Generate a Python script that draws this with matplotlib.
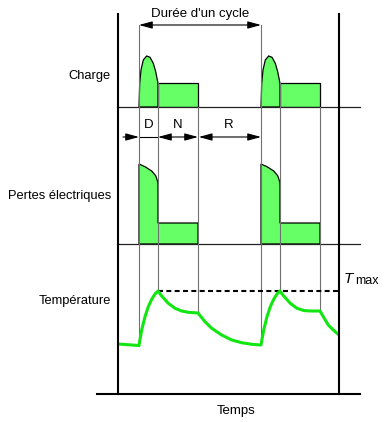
import numpy as np
import matplotlib
matplotlib.use("Agg")
import matplotlib.pyplot as plt

plt.rcParams['font.family'] = ['Liberation Sans', 'DejaVu Sans']

# cycle timing (time units, frame spans 0..221)
t_end = 221
cycle_starts = [21, 143]
dur_D = 19
dur_N = 40

# load (Charge): start peak profile, then constant load during N
peak_dt = [0, 0.7, 2, 4.3, 7.7, 11, 14.3, 16.7, 19]
peak_load = [0, 23.7, 37, 47, 51, 49.7, 43.7, 35.3, 23.7]
run_load = 23.7

# electrical losses (Pertes électriques)
loss_dt = [0, 0, 6, 12.7, 16.7, 18.7, 19]
loss_val = [0, 80, 77.3, 73, 68.3, 62.3, 59]
run_loss = 21

# temperature curve
temp_t = [0, 21, 21.7, 23.7, 27, 30.3, 33.7, 37, 40, 43.7, 50.3, 57, 63.7, 70.3, 80,
          87, 93.7, 103.7, 113.7, 123.7, 133.7, 143, 143.7, 145.7, 149, 152.3, 155.7,
          159, 162, 165.7, 172.3, 179, 185.7, 192.3, 202, 205.3, 210.3, 215.3, 221]
temp_val = [50, 48.5, 53, 64, 77.3, 87.3, 94.7, 100, 103, 98, 90.7, 85.7, 83, 81.7, 81,
            72.3, 65.7, 59, 54, 51.3, 49.7, 49, 53, 64, 77.3, 87.3, 94.7,
            100, 103, 98, 90.7, 85.7, 83.5, 83, 83, 77.3, 69, 64, 59]
t_max = 103

FILL = '#66ff66'
CURVE = '#11e611'
GREY = '#707070'

W, H = 388, 422
fig = plt.figure(figsize=(W / 100, H / 100), dpi=100)


def rect(x0, y0, x1, y1):
    return [x0 / W, 1 - y1 / H, (x1 - x0) / W, (y1 - y0) / H]


ax_c = fig.add_axes(rect(118, 14, 339, 107))
ax_p = fig.add_axes(rect(118, 107, 339, 244))
ax_t = fig.add_axes(rect(118, 244, 339, 394))
for ax, top in [(ax_c, 93), (ax_p, 137), (ax_t, 150)]:
    ax.set_xlim(0, t_end)
    ax.set_ylim(0, top)
    ax.axis('off')
    ax.axvline(0, color='black', lw=1.5, clip_on=False, zorder=5)
    ax.axvline(t_end, color='black', lw=1.5, clip_on=False, zorder=5)

bounds = []
for s in cycle_starts:
    bounds += [s, s + dur_D, s + dur_D + dur_N]

# --- Charge
for s in cycle_starts:
    px = [s + d for d in peak_dt] + [s + dur_D]
    ax_c.fill(px, peak_load + [0], facecolor=FILL, edgecolor='black', lw=0.9, zorder=2)
    rx = [s + dur_D, s + dur_D, s + dur_D + dur_N, s + dur_D + dur_N]
    ax_c.fill(rx, [0, run_load, run_load, 0], facecolor=FILL, edgecolor='black', lw=0.9, zorder=2)
    ax_c.plot([s, s], [0, 82], color=GREY, lw=0.8, zorder=3)
    ax_c.plot([s + dur_D] * 2, [0, run_load], color=GREY, lw=0.8, zorder=3)
ax_c.plot([0, 242], [0, 0], color='#222222', lw=0.9, clip_on=False)
ax_c.annotate('', xy=(cycle_starts[0], 82), xytext=(cycle_starts[1], 82),
              arrowprops=dict(arrowstyle='<|-|>,head_length=0.8,head_width=0.22',
                              color='black', lw=0.8, shrinkA=0, shrinkB=0))
ax_c.text(np.mean(cycle_starts), 93, "Durée d'un cycle", ha='center', va='center',
          fontsize=9.5, clip_on=False)
ax_c.text(-7, 31, 'Charge', ha='right', va='center', fontsize=9.3, clip_on=False)

# --- Pertes électriques
for s in cycle_starts:
    xs = [s + d for d in loss_dt] + [s + dur_D, s + dur_D + dur_N, s + dur_D + dur_N]
    ys = loss_val + [run_loss, run_loss, 0]
    ax_p.fill(xs, ys, facecolor=FILL, edgecolor='black', lw=0.9, zorder=2)
for b in bounds:
    ax_p.plot([b, b], [0, 137], color=GREY, lw=0.8, zorder=3)
ax_p.plot([0, 242], [0, 0], color='#222222', lw=0.9, clip_on=False)

s0 = cycle_starts[0]
arr = dict(color='black', lw=0.8, shrinkA=0, shrinkB=0)
ax_p.annotate('', xy=(s0, 107), xytext=(5, 107),
              arrowprops=dict(arrowstyle='-|>,head_length=0.8,head_width=0.22', **arr))
ax_p.plot([s0, s0 + dur_D], [107, 107], color='black', lw=0.8)
ax_p.annotate('', xy=(s0 + dur_D, 107), xytext=(s0 + dur_D + dur_N, 107),
              arrowprops=dict(arrowstyle='<|-|>,head_length=0.8,head_width=0.22', **arr))
ax_p.annotate('', xy=(s0 + dur_D + dur_N + 0.8, 107), xytext=(cycle_starts[1], 107),
              arrowprops=dict(arrowstyle='<|-|>,head_length=0.8,head_width=0.22', **arr))
ax_p.text(s0 + dur_D / 2, 119, 'D', ha='center', va='center', fontsize=9.5)
ax_p.text(s0 + dur_D + dur_N / 2 - 0.5, 119, 'N', ha='center', va='center', fontsize=9.5)
ax_p.text((s0 + dur_D + dur_N + cycle_starts[1]) / 2 - 0.5, 119, 'R', ha='center',
          va='center', fontsize=9.5)
ax_p.text(-7, 48, 'Pertes électriques', ha='right', va='center', fontsize=9.3, clip_on=False)

# --- Température
for b in bounds:
    ax_t.plot([b, b], [np.interp(b, temp_t, temp_val), 150], color=GREY, lw=0.8, zorder=3)
ax_t.plot([s0 + dur_D, t_end], [t_max, t_max], color='black', lw=1.5,
          dashes=(2.4, 1.6), zorder=4)
ax_t.plot(temp_t, temp_val, color=CURVE, lw=2.2, zorder=4, solid_capstyle='butt')
ax_t.plot([-21, 242], [0, 0], color='black', lw=1.5, clip_on=False)
ax_t.text(-7, 93, 'Température', ha='right', va='center', fontsize=9.3, clip_on=False)
ax_t.text(226, 111, 'T', ha='left', va='baseline', fontsize=11, style='italic', clip_on=False)
ax_t.text(237, 109.5, 'max', ha='left', va='baseline', fontsize=9, clip_on=False)
ax_t.text(118, -17, 'Temps', ha='center', va='center', fontsize=9.5, clip_on=False)

fig.savefig('out.png', dpi=100)
